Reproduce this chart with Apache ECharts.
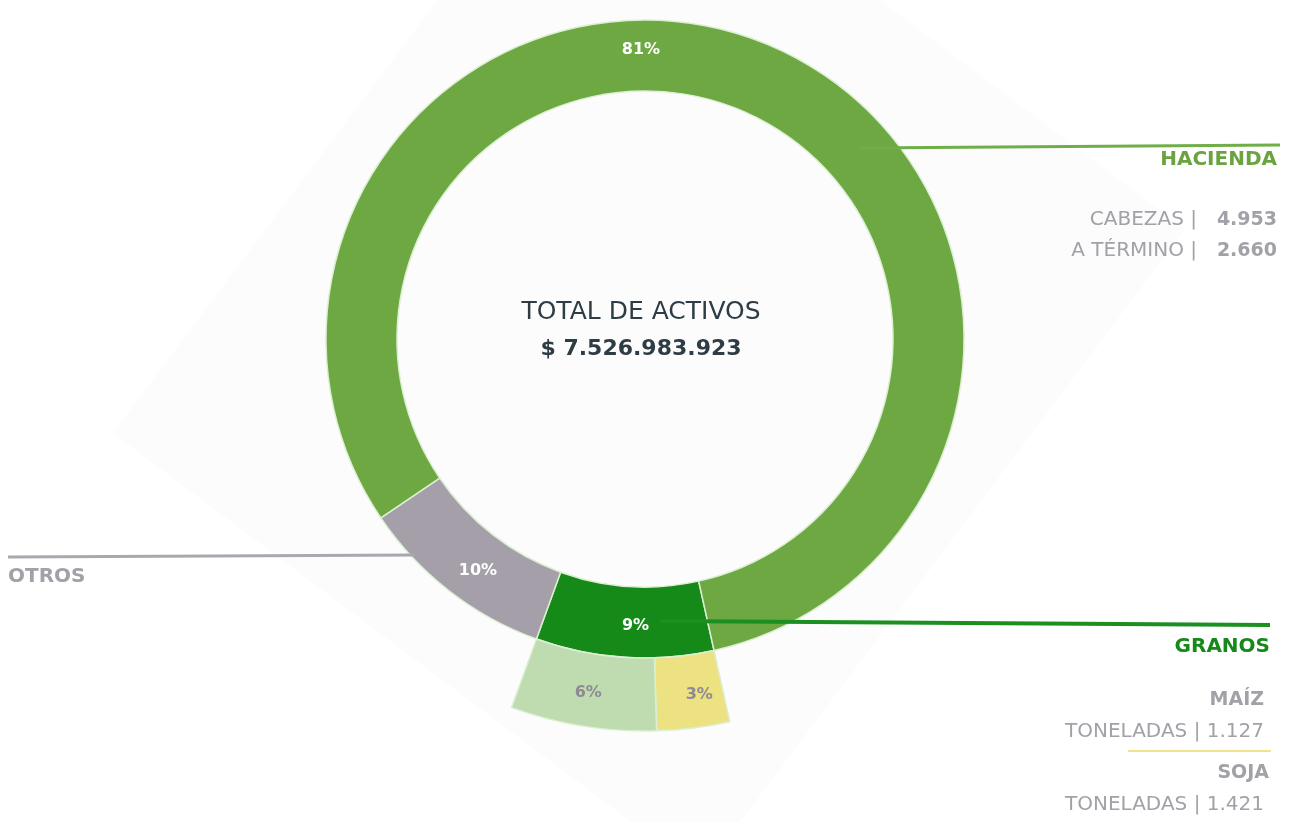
<!DOCTYPE html>
<html>
<head>
<meta charset="utf-8">
<title>Total de activos</title>
<script src="https://cdn.jsdelivr.net/npm/echarts@6/dist/echarts.min.js"></script>
<style>
  html, body { margin: 0; padding: 0; background: #fff; }
  #chart { width: 1291px; height: 822px; }
</style>
</head>
<body>
<div id="chart"></div>
<script>
  // anillo principal (orden horario desde abajo a la derecha)
  var categories = ['GRANOS', 'OTROS', 'HACIENDA'];
  var shares = [9, 10, 81];
  var ringColors = ['#158a19', '#a49fa8', '#6ea842'];

  // anillo exterior de granos
  var grainCategories = ['MAÍZ', 'SOJA'];
  var grainShares = [3, 6];
  var grainColors = ['#ece281', '#bfdcb1'];

  var totalLabel = 'TOTAL DE ACTIVOS';
  var totalValue = '$ 7.526.983.923';
  var haciendaRows = [['CABEZAS |', '4.953'], ['A TÉRMINO |', '2.660']];
  var granosRows = [['MAÍZ', 'TONELADAS | 1.127'], ['SOJA', 'TONELADAS | 1.421']];

  var FONT = '"DejaVu Sans", sans-serif';
  var GREY = '#a3a0a8';
  var cx = 645, cy = 339;
  var textX = 641;
  var startAngle = -77.5;

  var myChart = echarts.init(document.getElementById('chart'));

  var ringData = categories.map(function (n, i) {
    return { name: n, value: shares[i], itemStyle: { color: ringColors[i] } };
  });
  var grainData = grainCategories.map(function (n, i) {
    return { name: n, value: grainShares[i], itemStyle: { color: grainColors[i] } };
  });
  // hueco transparente para que el anillo exterior solo cubra granos
  grainData.push({
    name: 'resto', value: 100 - grainShares[0] - grainShares[1],
    itemStyle: { color: 'rgba(0,0,0,0)', borderWidth: 0 },
    label: { show: false }
  });

  function txt(x, y, text, opt) {
    return {
      type: 'text', x: x, y: y, z: 100, silent: true,
      style: Object.assign({
        text: text, font: 'normal 20px ' + FONT, fill: GREY,
        textAlign: 'right', textVerticalAlign: 'middle'
      }, opt || {})
    };
  }
  function line(x1, y1, x2, y2, color, w) {
    return {
      type: 'line', z: 100, silent: true,
      shape: { x1: x1, y1: y1, x2: x2, y2: y2 },
      style: { stroke: color, lineWidth: w }
    };
  }

  var option = {
    backgroundColor: '#ffffff',
    animation: false,
    graphic: [
      {
        type: 'polygon', z: -10, silent: true,
        shape: { points: [[113, 433], [597, -212], [1185, 229], [701, 874]] },
        style: { fill: '#fcfcfc' }
      },
      line(860, 148, 1280, 145, '#6fae49', 3),
      line(8, 557, 415, 555, '#aaa7ae', 3),
      line(660, 621, 1270, 625, '#1b8f20', 4),
      line(1128, 751, 1271, 751, '#efe48c', 2),
      txt(textX, 312, totalLabel, { textAlign: 'center', font: 'normal 25px ' + FONT, fill: '#2e3d45' }),
      txt(textX, 349, totalValue, { textAlign: 'center', font: 'bold 22px ' + FONT, fill: '#2e3d45' }),
      txt(1277, 160, categories[2], { font: 'bold 20px ' + FONT, fill: '#6aa33f' }),
      txt(1197, 220, haciendaRows[0][0]),
      txt(1277, 220, haciendaRows[0][1], { font: 'bold 19px ' + FONT }),
      txt(1197, 251, haciendaRows[1][0]),
      txt(1277, 251, haciendaRows[1][1], { font: 'bold 19px ' + FONT }),
      txt(8, 577, categories[1], { textAlign: 'left', font: 'bold 20px ' + FONT }),
      txt(1270, 647, categories[0], { font: 'bold 20px ' + FONT, fill: '#17891b' }),
      txt(1264, 700, granosRows[0][0], { font: 'bold 19px ' + FONT }),
      txt(1264, 732, granosRows[0][1]),
      txt(1269, 773, granosRows[1][0], { font: 'bold 19px ' + FONT }),
      txt(1264, 805, granosRows[1][1])
    ],
    series: [
      {
        type: 'pie',
        silent: true,
        center: [cx, cy],
        radius: [248, 319],
        startAngle: startAngle,
        clockwise: true,
        avoidLabelOverlap: false,
        itemStyle: { borderColor: '#dcefd3', borderWidth: 1.5 },
        label: {
          show: true, position: 'inside', formatter: '{c}%',
          color: '#ffffff', fontFamily: FONT, fontWeight: 'bold', fontSize: 16
        },
        labelLine: { show: false },
        labelLayout: function (p) {
          if (p.dataIndex === 2) {
            return { x: textX, y: 50 };
          }
          return p.dataIndex === 0 ? { dx: 9, dy: 1 } : { dx: 9, dy: 6 };
        },
        data: ringData
      },
      {
        type: 'pie',
        silent: true,
        center: [cx, cy],
        radius: [319, 392],
        startAngle: startAngle,
        clockwise: true,
        avoidLabelOverlap: false,
        itemStyle: { borderColor: '#dcefd3', borderWidth: 1.5 },
        label: {
          show: true, position: 'inside', formatter: '{c}%',
          color: '#8e8a94', fontFamily: FONT, fontWeight: 'bold', fontSize: 16
        },
        labelLine: { show: false },
        labelLayout: function (p) {
          return p.dataIndex === 0 ? { dx: 10 } : {};
        },
        data: grainData
      }
    ]
  };

  myChart.setOption(option);
</script>
</body>
</html>
